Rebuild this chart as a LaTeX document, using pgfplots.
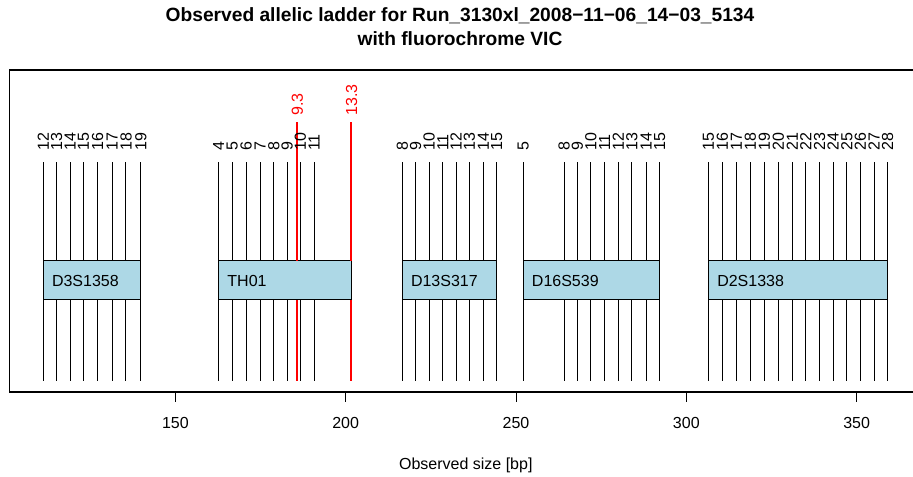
\documentclass[border=0pt]{standalone}
\usepackage{fontspec}
\setmainfont{Liberation Sans}
\usepackage{pgfplots}
\usepackage{pgfplotstable}
\pgfplotsset{compat=1.18}
\definecolor{lightblueR}{HTML}{ADD8E6}
\definecolor{offred}{HTML}{FF0000}

% allele positions (bp) and labels
\pgfplotstableread{
x lab
111.2 12
115.1 13
119.1 14
123.0 15
127.2 16
131.4 17
135.5 18
139.9 19
162.7 4
166.7 5
170.8 6
174.9 7
178.9 8
182.8 9
186.7 10
190.7 11
216.6 8
220.5 9
224.5 10
228.5 11
232.4 12
236.3 13
240.4 14
244.3 15
252.1 5
264.1 8
268.0 9
272.0 10
276.0 11
280.0 12
284.0 13
288.2 14
292.2 15
306.5 15
310.6 16
314.7 17
318.8 18
322.9 19
327.0 20
331.1 21
335.1 22
339.1 23
343.1 24
347.1 25
351.1 26
355.1 27
359.1 28
}\alleles

\pgfplotstableread{
x lab
185.8 9.3
201.7 13.3
}\offladder

\pgfplotstableread{
xl xr name
111.2 139.9 D3S1358
162.7 201.7 TH01
216.6 244.3 D13S317
252.1 292.2 D16S539
306.5 359.1 D2S1338
}\markers

\begin{document}
\begin{tikzpicture}
\begin{axis}[
  at={(7.125pt,63.75pt)}, anchor=south west,
  scale only axis,
  width=684.4pt, height=241.5pt,
  xmin=101.3, xmax=369.2,
  ymin=-11.3, ymax=310.7,
  axis line style={line width=0.9pt},
  ytick=\empty,
  xtick={150,200,250,300,350},
  xtick pos=left,
  tick align=outside,
  major tick length=7.5pt,
  every tick/.style={black, line width=0.75pt},
  /pgf/number format/assume math mode=true,
  xticklabel style={font=\fontsize{12pt}{14pt}\selectfont, inner sep=0pt, yshift=-11pt},
  xlabel={Observed size [bp]},
  xlabel style={font=\fontsize{12pt}{14pt}\selectfont, at={(axis description cs:0.5,-0.2422)}, anchor=base, inner sep=0pt},
  title={Observed allelic ladder for Run\_3130xl\_2008−11−06\_14−03\_5134\\with fluorochrome VIC},
  title style={font=\fontsize{14.4pt}{18pt}\selectfont\bfseries, align=center, at={(axis description cs:0.4937,1.169)}, anchor=north, inner sep=0pt},
  clip=false,
]
% ladder lines
\addplot[ycomb, black, line width=0.75pt, mark=none] table[x=x, y expr=219] {\alleles};
% marker boxes
\addplot[fill=lightblueR, draw=black, line width=0.75pt] coordinates {(111.2,80.7) (139.9,80.7) (139.9,119.7) (111.2,119.7)} -- cycle;
\addplot[fill=lightblueR, draw=black, line width=0.75pt] coordinates {(162.7,80.7) (201.7,80.7) (201.7,119.7) (162.7,119.7)} -- cycle;
\addplot[fill=lightblueR, draw=black, line width=0.75pt] coordinates {(216.6,80.7) (244.3,80.7) (244.3,119.7) (216.6,119.7)} -- cycle;
\addplot[fill=lightblueR, draw=black, line width=0.75pt] coordinates {(252.1,80.7) (292.2,80.7) (292.2,119.7) (252.1,119.7)} -- cycle;
\addplot[fill=lightblueR, draw=black, line width=0.75pt] coordinates {(306.5,80.7) (359.1,80.7) (359.1,119.7) (306.5,119.7)} -- cycle;
% marker names
\addplot[only marks, mark=none, nodes near coords, point meta=explicit symbolic,
  nodes near coords style={anchor=west, inner sep=0pt, font=\fontsize{12pt}{14pt}\selectfont, text=black}]
  table[x expr=\thisrow{xl}+2.5, y expr=100.2, meta=name] {\markers};
% allele labels
\addplot[only marks, mark=none, nodes near coords, point meta=explicit symbolic,
  nodes near coords style={rotate=90, anchor=west, inner sep=0pt, font=\fontsize{12pt}{14pt}\selectfont, text=black}]
  table[x=x, y expr=229.7, meta=lab] {\alleles};
\addplot[only marks, mark=none, nodes near coords, point meta=explicit symbolic,
  nodes near coords style={rotate=90, anchor=west, inner sep=0pt, font=\fontsize{12pt}{14pt}\selectfont, text=offred}]
  table[x=x, y expr=264.7, meta=lab] {\offladder};
% off-ladder alleles (red), below and above the marker box
\addplot[draw=offred, line width=1.5pt, mark=none, unbounded coords=jump]
  coordinates {(185.8,0) (185.8,80.3) (185.8,nan) (185.8,120.1) (185.8,259)
               (201.7,nan) (201.7,0) (201.7,80.3) (201.7,nan) (201.7,120.1) (201.7,259)};
\end{axis}
\pgfresetboundingbox
\useasboundingbox (0,0) rectangle (684.75pt,357.75pt);
\end{tikzpicture}
\end{document}
